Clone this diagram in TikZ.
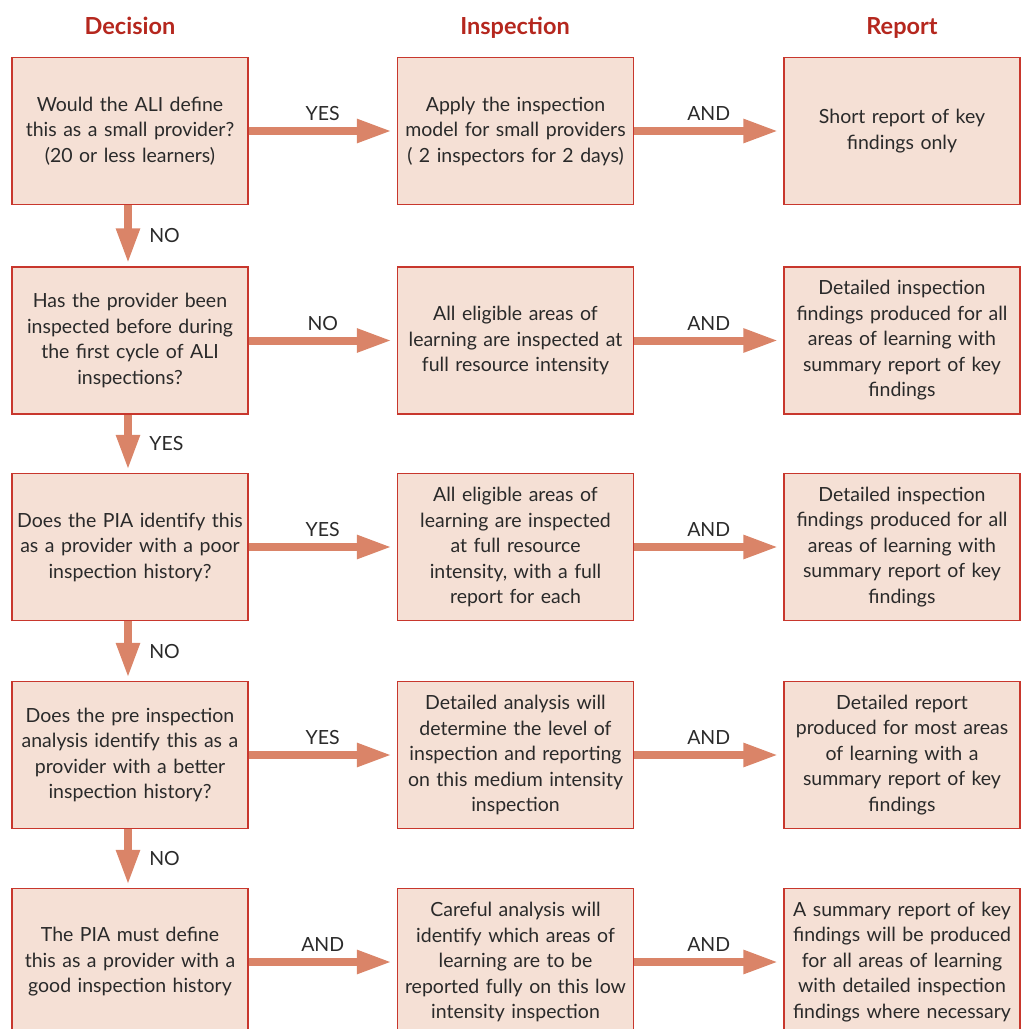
\documentclass[tikz,border=0pt]{standalone}
\usepackage{fontspec}
\setmainfont{Lato}
\usetikzlibrary{arrows.meta}
\definecolor{boxfill}{HTML}{F5E0D5}
\definecolor{boxline}{HTML}{C8372D}
\definecolor{arrowc}{HTML}{DA8468}
\definecolor{headc}{HTML}{B5271E}
\definecolor{txt}{HTML}{2A2A2A}
\tikzset{
  box/.style={draw=boxline, line width=1.1pt, fill=boxfill, minimum width=236pt, minimum height=147pt,
    text width=234pt, align=center, inner sep=0pt, text=txt,
    font=\fontsize{19.5pt}{25.5pt}\selectfont},
  head/.style={text=headc, anchor=base, font=\fontsize{23.5pt}{27pt}\selectfont\bfseries},
  lab/.style={text=txt, font=\fontsize{19.5pt}{22pt}\selectfont},
  flow/.style={draw=arrowc, line width=8pt, -{Triangle[length=35pt,width=22pt]}},
}
\begin{document}
\begin{tikzpicture}[x=1pt,y=-1pt]
\useasboundingbox (0,0) rectangle (1022,1029);
\node[head] (h1) at (130,34) {Decision};
\node[head] (h2) at (515,34) {Inspection};
\node[head] (h3) at (902,34) {Report};

\node[box] (d1) at (130,131) {Would the ALI define\\this as a small provider?\\(20 or less learners)};
\node[box] (i1) at (515.5,131) {Apply the inspection\\model for small providers\\( 2 inspectors for 2 days)};
\node[box] (r1) at (902,131) {Short report of key\\findings only};

\node[box] (d2) at (130,340.5) {Has the provider been\\inspected before during\\the first cycle of ALI\\inspections?};
\node[box] (i2) at (515.5,340.5) {All eligible areas of\\learning are inspected at\\full resource intensity};
\node[box] (r2) at (902,340.5) {Detailed inspection\\findings produced for all\\areas of learning with\\summary report of key\\findings};

\node[box] (d3) at (130,547) {Does the PIA identify this\\as a provider with a poor\\inspection history?};
\node[box] (i3) at (515.5,547) {All eligible areas of\\learning are inspected\\at full resource\\intensity, with a full\\report for each};
\node[box] (r3) at (902,547) {Detailed inspection\\findings produced for all\\areas of learning with\\summary report of key\\findings};

\node[box] (d4) at (130,755) {Does the pre inspection\\analysis identify this as a\\provider with a better\\inspection history?};
\node[box] (i4) at (515.5,755) {Detailed analysis will\\determine the level of\\inspection and reporting\\on this medium intensity\\inspection};
\node[box] (r4) at (902,755) {Detailed report\\produced for most areas\\of learning with a\\summary report of key\\findings};

\node[box] (d5) at (130,962) {The PIA must define\\this as a provider with a\\good inspection history};
\node[box] (i5) at (515.5,962) {Careful analysis will\\identify which areas of\\learning are to be\\reported fully on this low\\intensity inspection};
\node[box] (r5) at (902,962) {A summary report of key\\findings will be produced\\for all areas of learning\\with detailed inspection\\findings where necessary};

\foreach \r/\a in {1/YES,2/NO,3/YES,4/YES,5/AND}{
  \draw[flow, shorten >=5pt] (d\r.east) -- (i\r.west) node[lab, midway, above=3pt] (la\r) {\a};
  \draw[flow, shorten >=5pt] (i\r.east) -- (r\r.west) node[lab, midway, above=3pt] (lb\r) {AND};
}
\draw[flow, shorten >=3pt] (d1.south -| 128,0) -- (d2.north -| 128,0) node[lab, midway, right=14pt] (v1) {NO};
\draw[flow, shorten >=3pt] (d2.south -| 128,0) -- (d3.north -| 128,0) node[lab, midway, right=14pt] (v2) {YES};
\draw[flow, shorten >=3pt] (d3.south -| 128,0) -- (d4.north -| 128,0) node[lab, midway, right=14pt] (v3) {NO};
\draw[flow, shorten >=3pt] (d4.south -| 128,0) -- (d5.north -| 128,0) node[lab, midway, right=14pt] (v4) {NO};
\end{tikzpicture}
\end{document}
